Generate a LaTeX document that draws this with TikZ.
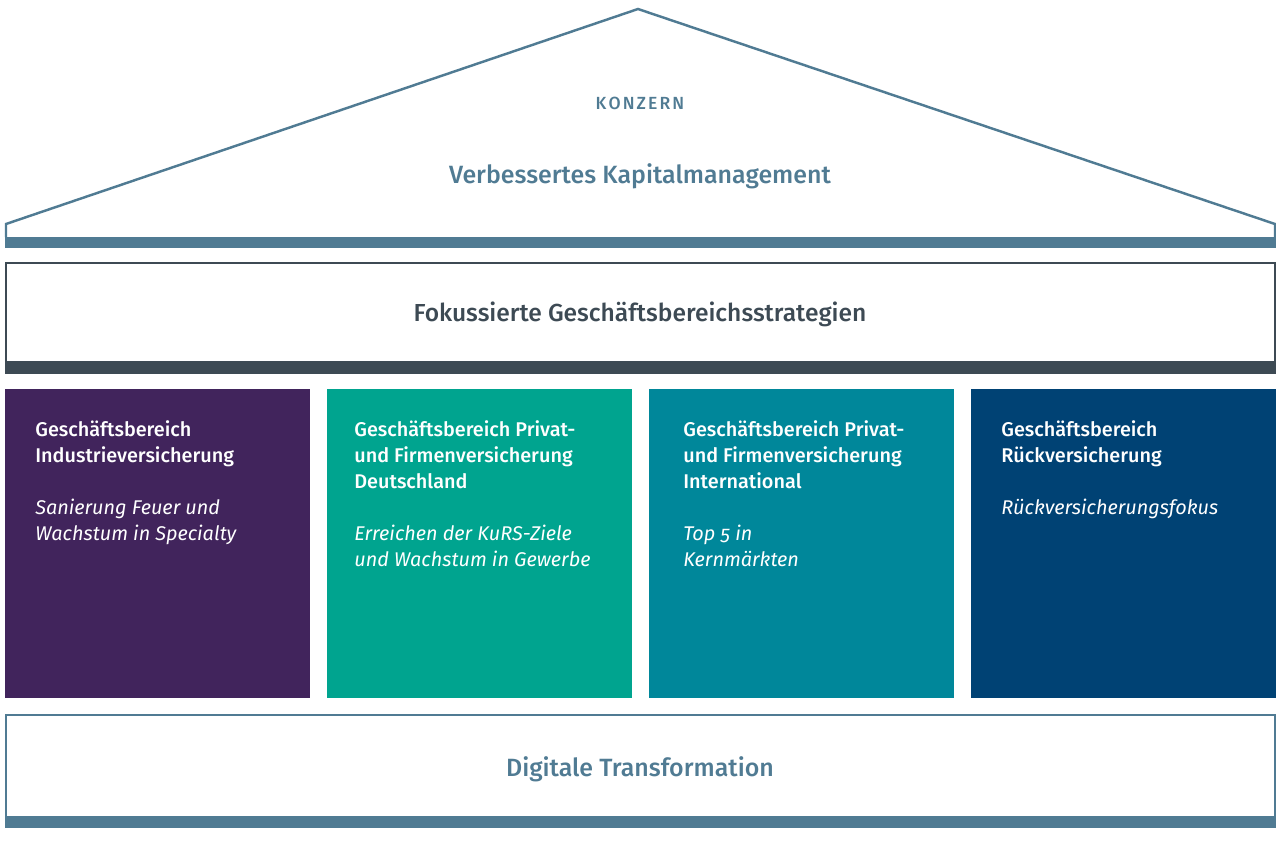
\documentclass[tikz,border=0pt]{standalone}
\usepackage{fontspec}
\setmainfont{Fira Sans}[Numbers=OldStyle, BoldFont={Fira Sans Medium}, BoldItalicFont={Fira Sans Medium Italic}]
\usepackage{tikz}
\definecolor{roofblue}{HTML}{507B93}
\definecolor{slate}{HTML}{3D4A54}
\definecolor{plum}{HTML}{41245C}
\definecolor{jade}{HTML}{00A48F}
\definecolor{petrol}{HTML}{00879A}
\definecolor{navy}{HTML}{004274}
\tikzset{
  coltext/.style={anchor=north west, align=left, text=white, inner sep=0pt,
    font=\fontsize{11.3}{14.8}\selectfont},
}

\begin{document}
\begin{tikzpicture}[x=0.02cm, y=-0.02cm]
			%%%%% START %%%%%
			\useasboundingbox (0, 0) rectangle (1276, 849);
			
			% roof
			\draw[roofblue, line width=1.4pt, line join=miter] (6, 237) -- (6, 224) -- (638, 9) -- (1275, 224) -- (1275, 237);
			\draw[fill=roofblue, draw=none] (5, 237) rectangle (1276, 248);
			\node[text=roofblue, font=\bfseries\fontsize{10}{11}\selectfont] (konzern) at (640, 103) {K\kern1.2pt O\kern1.2pt N\kern1.2pt Z\kern1.2pt E\kern1.2pt R\kern1.2pt N};
			\node[text=roofblue, font=\bfseries\fontsize{14.2}{16}\selectfont] (kapital) at (640, 176) {Verbessertes Kapitalmanagement};
			
			% strategies
			\draw[slate, line width=1.2pt] (6, 263) rectangle (1275, 362);
			\draw[fill=slate, draw=none] (5, 362) rectangle (1276, 374);
			\node[text=slate, font=\bfseries\fontsize{14}{16}\selectfont] (fokus) at (640, 314) {Fokussierte Geschäftsbereichsstrategien};
			
			% columns
			\draw[fill=plum, draw=none] (5, 389) rectangle (310, 698);
			\draw[fill=jade, draw=none] (327, 389) rectangle (632, 698);
			\draw[fill=petrol, draw=none] (649, 389) rectangle (954, 698);
			\draw[fill=navy, draw=none] (971, 389) rectangle (1276, 698);
			
			\node[coltext] (ind) at (35, 420) {\bfseries Geschäftsbereich\\ \bfseries Industrieversicherung\\[14.8pt] \itshape Sanierung Feuer und\\ \itshape Wachstum in Specialty};
			\node[coltext] (pfde) at (354, 420) {\bfseries Geschäftsbereich Privat-\\ \bfseries und Firmenversicherung\\ \bfseries Deutschland\\[14.8pt] \itshape Erreichen der KuRS-Ziele\\ \itshape und Wachstum in Gewerbe};
			\node[coltext] (pfint) at (683, 420) {\bfseries Geschäftsbereich Privat-\\ \bfseries und Firmenversicherung\\ \bfseries International\\[14.8pt] \itshape Top 5 in\\ \itshape Kernmärkten};
			\node[coltext] (rueck) at (1001, 420) {\bfseries Geschäftsbereich\\ \bfseries Rückversicherung\\[14.8pt] \itshape Rückversicherungsfokus};
			
			% foundation
			\draw[roofblue, line width=1.2pt] (6, 715) rectangle (1275, 817);
			\draw[fill=roofblue, draw=none] (5, 817) rectangle (1276, 828);
			\node[text=roofblue, font=\bfseries\fontsize{14.2}{16}\selectfont] (digital) at (640, 769) {Digitale Transformation};
			%%%%% END %%%%%
\end{tikzpicture}
\end{document}
